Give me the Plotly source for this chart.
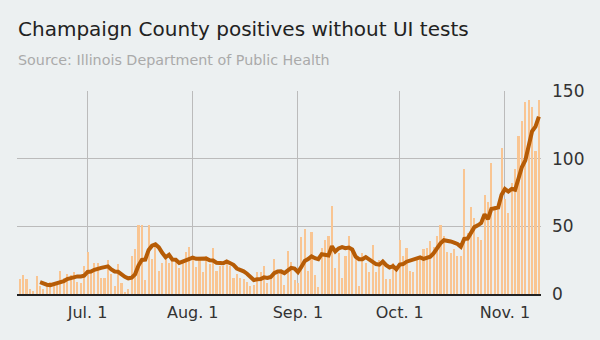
import pandas as pd
import plotly.graph_objects as go

# Daily positive cases (excluding University of Illinois tests), starting 2020-06-11
start_date = "2020-06-11"
daily_cases = [
    11, 14, 11, 4, 2, 13, 6, 4, 8, 9,
    8, 8, 17, 12, 15, 14, 16, 9, 8, 21,
    31, 17, 23, 23, 12, 12, 25, 15, 6, 22,
    8, 1, 4, 28, 33, 51, 51, 10, 51, 26,
    35, 17, 23, 28, 23, 26, 25, 19, 24, 31,
    35, 28, 20, 25, 16, 28, 22, 34, 17, 21,
    21, 25, 21, 12, 15, 12, 11, 9, 6, 7,
    16, 16, 21, 8, 14, 26, 15, 17, 7, 32,
    24, 10, 8, 42, 48, 17, 46, 14, 5, 34,
    40, 43, 65, 19, 30, 12, 28, 43, 33, 28,
    6, 30, 23, 16, 36, 16, 25, 22, 11, 11,
    23, 20, 40, 28, 34, 17, 16, 27, 27, 33,
    34, 39, 35, 43, 51, 43, 31, 30, 33, 28,
    28, 92, 45, 64, 56, 42, 40, 73, 68, 97,
    65, 62, 108, 70, 60, 82, 92, 117, 128, 142,
    143, 138, 106, 143,
]

tick_dates = ["2020-07-01", "2020-08-01", "2020-09-01", "2020-10-01", "2020-11-01"]
tick_labels = ["Jul. 1", "Aug. 1", "Sep. 1", "Oct. 1", "Nov. 1"]
y_ticks = [0, 50, 100, 150]

dates = pd.date_range(start_date, periods=len(daily_cases), freq="D")
series = pd.Series(daily_cases, index=dates, dtype=float)
seven_day_avg = series.rolling(7).mean()

BG = "#ecf0f1"
FONT = "DejaVu Sans"

fig = go.Figure()
fig.add_trace(go.Bar(
    x=dates, y=series.values,
    marker=dict(color="#f9c592", line=dict(width=0)),
    width=0.62 * 86400000,
    hoverinfo="x+y",
))
fig.add_trace(go.Scatter(
    x=dates, y=seven_day_avg.values,
    mode="lines",
    line=dict(color="#b65c06", width=4),
    connectgaps=False,
    hoverinfo="x+y",
))

fig.update_layout(
    width=600, height=340,
    paper_bgcolor=BG, plot_bgcolor=BG,
    margin=dict(l=17, r=59, t=91, b=46),
    showlegend=False,
    bargap=0,
    font=dict(family=FONT, color="#333333"),
    annotations=[
        dict(text="Champaign County positives without UI tests",
             xref="paper", yref="paper", x=0, y=1, xanchor="left", yanchor="bottom",
             xshift=-1, yshift=48, showarrow=False,
             font=dict(family=FONT, size=20, color="#222222")),
        dict(text="Source: Illinois Department of Public Health",
             xref="paper", yref="paper", x=0, y=1, xanchor="left", yanchor="bottom",
             xshift=-1, yshift=21, showarrow=False,
             font=dict(family=FONT, size=14.3, color="#aaaaaa")),
    ],
)

fig.update_xaxes(
    type="date",
    range=["2020-06-10 05:00", "2020-11-11 15:00"],
    tickvals=tick_dates, ticktext=tick_labels,
    showgrid=True, gridcolor="#bbbbbb", gridwidth=1,
    ticks="", ticklabelstandoff=3,
    tickfont=dict(family=FONT, size=16, color="#333333"),
    showline=True, linecolor="#222222", linewidth=2,
    zeroline=False, fixedrange=True,
)
fig.update_yaxes(
    range=[0, 150], side="right",
    tickvals=y_ticks,
    showgrid=True, gridcolor="#bbbbbb", gridwidth=1,
    ticks="", ticklabelstandoff=10,
    tickfont=dict(family=FONT, size=17, color="#333333"),
    zeroline=False, showline=False, fixedrange=True,
)

fig.write_html("out.html")
